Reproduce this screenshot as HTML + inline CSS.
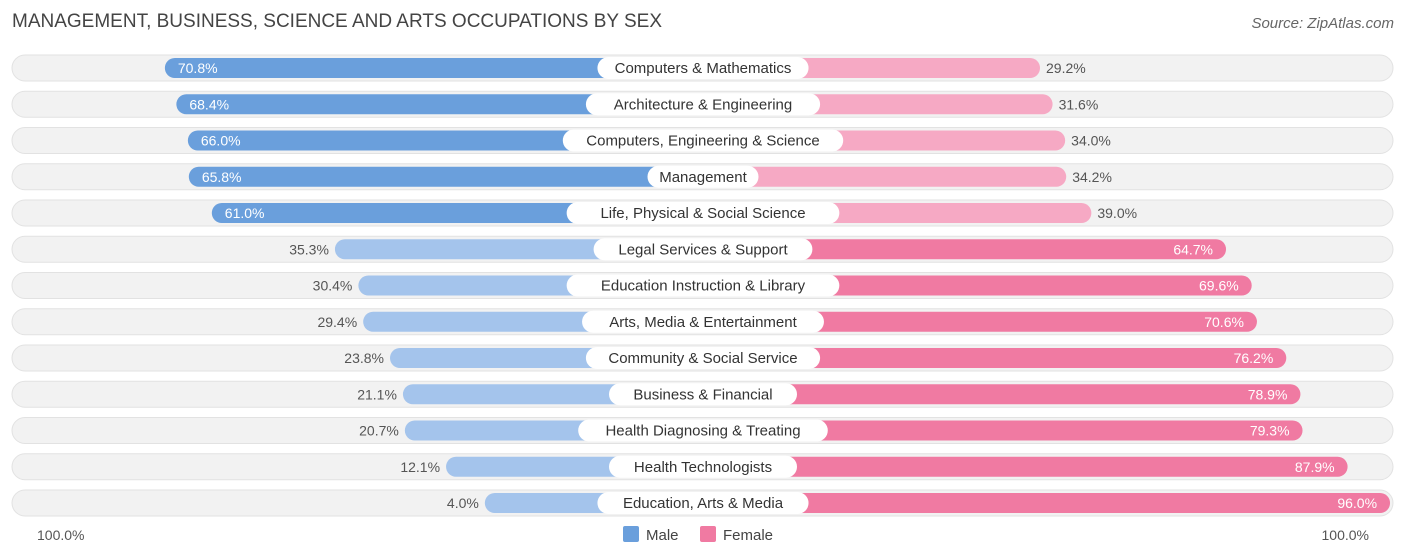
<!DOCTYPE html>
<html><head><meta charset="utf-8"><style>
body{margin:0;background:#fff;font-family:"Liberation Sans",sans-serif;}
#c{position:relative;width:1406px;height:559px;overflow:hidden}
.t{position:absolute;left:12px;top:11px;font-size:19px;color:#444}
.s{position:absolute;right:12px;top:15px;font-size:15px;color:#666;font-style:italic}
svg text{font-family:"Liberation Sans",sans-serif}
</style></head><body><div id="c">
<div class="t">MANAGEMENT, BUSINESS, SCIENCE AND ARTS OCCUPATIONS BY SEX</div>
<div class="s">Source: ZipAtlas.com</div>
<svg id="g" width="1406" height="559" style="position:absolute;left:0;top:0"></svg>
</div>
<script>
const categories=["Computers & Mathematics","Architecture & Engineering","Computers, Engineering & Science","Management","Life, Physical & Social Science","Legal Services & Support","Education Instruction & Library","Arts, Media & Entertainment","Community & Social Service","Business & Financial","Health Diagnosing & Treating","Health Technologists","Education, Arts & Media"];
const maleValues=[70.8,68.4,66.0,65.8,61.0,35.3,30.4,29.4,23.8,21.1,20.7,12.1,4.0];
const femaleValues=[29.2,31.6,34.0,34.2,39.0,64.7,69.6,70.6,76.2,78.9,79.3,87.9,96.0];
const NS="http://www.w3.org/2000/svg",g=document.getElementById('g');
const cx=703;
function mx(v){return cx-199-4.79*v;}
function fx(v){return cx+184+5.24*v;}
function rowY(i){return 68+i*36.25;}
function mk(t,a,p){const e=document.createElementNS(NS,t);for(const k in a)e.setAttribute(k,a[k]);(p||g).appendChild(e);return e;}
categories.forEach((c,i)=>{
 const y=rowY(i);
 const row=mk('g',{});
 
 
 const bg=mk('rect',{x:12,y:y-13,width:1381,height:26,rx:13,fill:'#f2f2f2',stroke:'#e2e2e2'},row);
 
 
 const m=maleValues[i],f=femaleValues[i];
 const strongM=m>50,strongF=f>50;
 const x0=mx(m);
 const mb=mk('rect',{x:x0,y:y-10,width:cx-x0,height:20,rx:10,fill:strongM?'#6a9fdc':'#a4c4ec'},row);
 
 
 const x1=fx(f);
 const fb=mk('rect',{x:cx,y:y-10,width:x1-cx,height:20,rx:10,fill:strongF?'#f07aa2':'#f6a9c4'},row);
 
 
 const ml=mk('text',{x:strongM?x0+13:x0-6,y:y+5,'font-size':14,fill:strongM?'#fff':'#555','text-anchor':strongM?'start':'end'},row);
 ml.textContent=m.toFixed(1)+'%';
 
 
 const fl=mk('text',{x:strongF?x1-13:x1+6,y:y+5,'font-size':14,fill:strongF?'#fff':'#555','text-anchor':strongF?'end':'start'},row);
 fl.textContent=f.toFixed(1)+'%';
 
 
 const w=c.length*7.7+34;
 const lb=mk('rect',{x:cx-w/2,y:y-11,width:w,height:22,rx:11,fill:'#fff'},row);
 
 
 const lt=mk('text',{x:cx,y:y+5,'font-size':15,fill:'#333','text-anchor':'middle'},row);
 lt.textContent=c;
 
 
});
const a1=mk('text',{x:37,y:540,'font-size':14,fill:'#555'});a1.textContent='100.0%';


const a2=mk('text',{x:1369,y:540,'font-size':14,fill:'#555','text-anchor':'end'});a2.textContent='100.0%';


const l1=mk('rect',{x:623,y:526,width:16,height:16,rx:2,fill:'#6a9fdc'});


const t1=mk('text',{x:646,y:540,'font-size':15,fill:'#444'});t1.textContent='Male';


const l2=mk('rect',{x:700,y:526,width:16,height:16,rx:2,fill:'#f07aa2'});


const t2=mk('text',{x:723,y:540,'font-size':15,fill:'#444'});t2.textContent='Female';


</script></body></html>
